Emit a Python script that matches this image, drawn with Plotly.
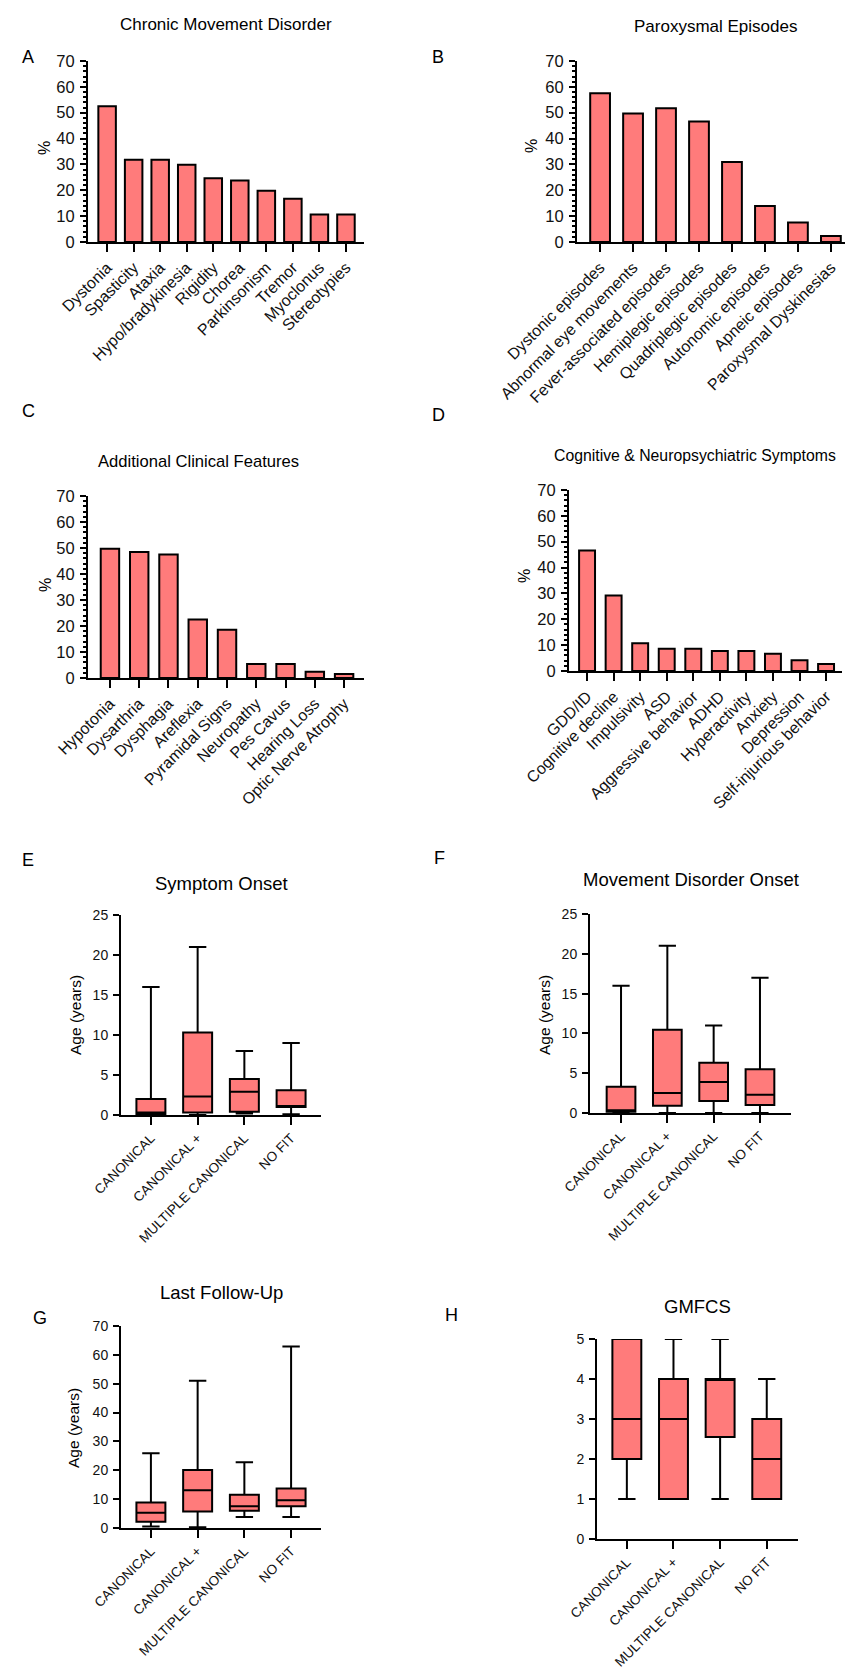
import plotly.graph_objects as go

W, H = 853, 1671
FILL = "#FF7B7B"
FONT = "Liberation Sans, Arial, sans-serif"

# ---------------- Data ----------------
a_cats = ["Dystonia", "Spasticity", "Ataxia", "Hypo/bradykinesia", "Rigidity", "Chorea",
          "Parkinsonism", "Tremor", "Myoclonus", "Stereotypies"]
a_vals = [52.5, 31.8, 31.8, 29.9, 24.7, 23.8, 19.8, 16.7, 10.6, 10.6]

b_cats = ["Dystonic episodes", "Abnormal eye movements", "Fever-associated episodes",
          "Hemiplegic episodes", "Quadriplegic episodes", "Autonomic episodes",
          "Apneic episodes", "Paroxysmal Dyskinesias"]
b_vals = [57.5, 49.7, 51.7, 46.6, 30.9, 13.9, 7.5, 2.3]

c_cats = ["Hypotonia", "Dysarthria", "Dysphagia", "Areflexia", "Pyramidal Signs",
          "Neuropathy", "Pes Cavus", "Hearing Loss", "Optic Nerve Atrophy"]
c_vals = [49.7, 48.5, 47.5, 22.5, 18.6, 5.4, 5.4, 2.4, 1.5]

d_cats = ["GDD/ID", "Cognitive decline", "Impulsivity", "ASD", "Aggressive behavior",
          "ADHD", "Hyperactivity", "Anxiety", "Depression", "Self-injurious behavior"]
d_vals = [46.6, 29.2, 10.7, 8.6, 8.6, 7.7, 7.7, 6.7, 4.2, 2.7]

groups = ["CANONICAL", "CANONICAL +", "MULTIPLE CANONICAL", "NO FIT"]

e_min = [0.0, 0.0, 0.2, 0.1]
e_q1 = [0.1, 0.3, 0.4, 1.0]
e_med = [0.3, 2.3, 2.9, 1.1]
e_q3 = [2.0, 10.3, 4.5, 3.1]
e_max = [16.0, 21.0, 8.0, 9.0]

f_min = [0.0, 0.0, 0.0, 0.0]
f_q1 = [0.15, 0.9, 1.5, 1.0]
f_med = [0.35, 2.5, 3.9, 2.3]
f_q3 = [3.3, 10.45, 6.3, 5.5]
f_max = [16.0, 21.0, 11.0, 17.0]

g_min = [0.5, 0.3, 3.8, 3.8]
g_q1 = [2.2, 5.7, 6.0, 7.5]
g_med = [5.3, 13.1, 7.5, 9.6]
g_q3 = [8.8, 20.1, 11.5, 13.7]
g_max = [25.9, 51.0, 22.8, 62.9]

h_min = [1, 1, 1, 1]
h_q1 = [2, 1, 2.55, 1]
h_med = [3, 3, 4, 2]
h_q3 = [5, 4, 4, 3]
h_max = [5, 5, 5, 4]

# ---------------- Helpers ----------------
def px_x(x):
    return x / W

def px_y(y):
    return 1 - y / H

fig = go.Figure()
layout = dict(
    width=W, height=H, margin=dict(l=0, r=0, t=0, b=0, pad=0, autoexpand=False),
    paper_bgcolor="white", plot_bgcolor="white", showlegend=False,
    font=dict(family=FONT, color="black"),
)
annotations = []

def add_axes(idx, xdom, ydom, xrange, yrange, ydtick, minor, xfs, yfs):
    xk = "xaxis" if idx == 1 else f"xaxis{idx}"
    yk = "yaxis" if idx == 1 else f"yaxis{idx}"
    ya = "y" if idx == 1 else f"y{idx}"
    xa = "x" if idx == 1 else f"x{idx}"
    layout[xk] = dict(
        domain=[px_x(xdom[0]), px_x(xdom[1])], anchor=ya, range=xrange,
        showline=True, linecolor="black", linewidth=2, ticks="outside",
        ticklen=8, tickwidth=2, tickcolor="black", tickangle=-45,
        tickfont=dict(size=xfs, family=FONT, color="#111"), showgrid=False,
        zeroline=False, fixedrange=True, automargin=False,
    )
    ykw = dict(
        domain=[px_y(ydom[1]), px_y(ydom[0])], anchor=xa, range=yrange,
        showline=True, linecolor="black", linewidth=2, ticks="outside",
        ticklen=6, tickwidth=2, tickcolor="black", dtick=ydtick, tick0=0,
        tickfont=dict(size=yfs, family=FONT, color="#111"), showgrid=False,
        zeroline=False, fixedrange=True, ticklabelstandoff=2, automargin=False,
    )
    if minor:
        ykw["minor"] = dict(dtick=minor, ticks="outside", ticklen=3,
                            tickwidth=1.5, tickcolor="black", showgrid=False)
    layout[yk] = ykw
    return xa, ya

def bar_panel(idx, cats, vals, xdom, ydom, pad_l, pad_r, width):
    xa, ya = add_axes(idx, xdom, ydom, [-pad_l, len(cats) - 1 + pad_r], [0, 70],
                      10, 2, 16, 16.5)
    fig.add_trace(go.Bar(
        x=cats, y=vals, xaxis=xa, yaxis=ya, width=width,
        marker=dict(color=FILL, line=dict(color="black", width=2)),
    ))

def box_panel(idx, lo, q1, med, q3, hi, xdom, ydom, pad_l, pad_r, yrange, ydtick):
    xa, ya = add_axes(idx, xdom, ydom, [-pad_l, 3 + pad_r], yrange, ydtick, None, 13.5, 14)
    fig.add_trace(go.Box(
        x=groups, lowerfence=lo, q1=q1, median=med, q3=q3, upperfence=hi,
        xaxis=xa, yaxis=ya, width=0.62, whiskerwidth=0.6, boxpoints=False,
        fillcolor=FILL, line=dict(color="black", width=2), hoverinfo="skip",
    ))

def text(x, y, s, size, angle=0, xanchor="center"):
    annotations.append(dict(
        x=px_x(x), y=px_y(y), xref="paper", yref="paper", text=s,
        showarrow=False, textangle=angle, xanchor=xanchor, yanchor="middle",
        font=dict(size=size, family=FONT, color="black"),
    ))

# ---------------- Panels ----------------
bar_panel(1, a_cats, a_vals, (80, 356), (53, 234), 0.72, 0.68, 0.66)
bar_panel(2, b_cats, b_vals, (569, 844), (53, 234), 0.70, 0.64, 0.60)
bar_panel(3, c_cats, c_vals, (80, 356), (488, 670), 0.75, 0.68, 0.63)
bar_panel(4, d_cats, d_vals, (561, 834), (482, 663), 0.68, 0.60, 0.60)

box_panel(5, e_min, e_q1, e_med, e_q3, e_max, (113, 313), (907, 1107), 0.64, 0.64, [0, 25], 5)
box_panel(6, f_min, f_q1, f_med, f_q3, f_max, (582, 783), (906, 1105), 0.67, 0.67, [0, 25], 5)
box_panel(7, g_min, g_q1, g_med, g_q3, g_max, (113, 313), (1318, 1520), 0.64, 0.64, [0, 70], 10)
box_panel(8, h_min, h_q1, h_med, h_q3, h_max, (589, 790), (1331, 1531), 0.64, 0.67, [0, 5], 1)

# Titles
text(218, 17, "Chronic Movement Disorder", 17)
text(707, 18, "Paroxysmal Episodes", 17)
text(190, 453, "Additional Clinical Features", 16.6)
text(544, 447, "Cognitive &amp; Neuropsychiatric Symptoms", 15.8, xanchor="left")
text(213, 875, "Symptom Onset", 18.5)
text(683, 872, "Movement Disorder Onset", 18.5)
text(213, 1284, "Last Follow-Up", 18.5)
text(689, 1298, "GMFCS", 18.5)

# Panel letters
text(20, 49, "A", 18)
text(430, 49, "B", 18)
text(20, 403, "C", 18)
text(430, 407, "D", 18)
text(20, 852, "E", 18)
text(432, 850, "F", 18)
text(32, 1310, "G", 18)
text(443, 1307, "H", 18)

# Axis titles
text(37, 140, "%", 16, -90)
text(524, 138, "%", 16, -90)
text(37, 577, "%", 16, -90)
text(516, 568, "%", 16, -90)
text(67, 1007, "Age (years)", 15.5, -90)
text(536, 1007, "Age (years)", 15.5, -90)
text(65, 1420, "Age (years)", 15.5, -90)

layout["annotations"] = annotations
fig.update_layout(**layout)
fig.write_html("out.html")
